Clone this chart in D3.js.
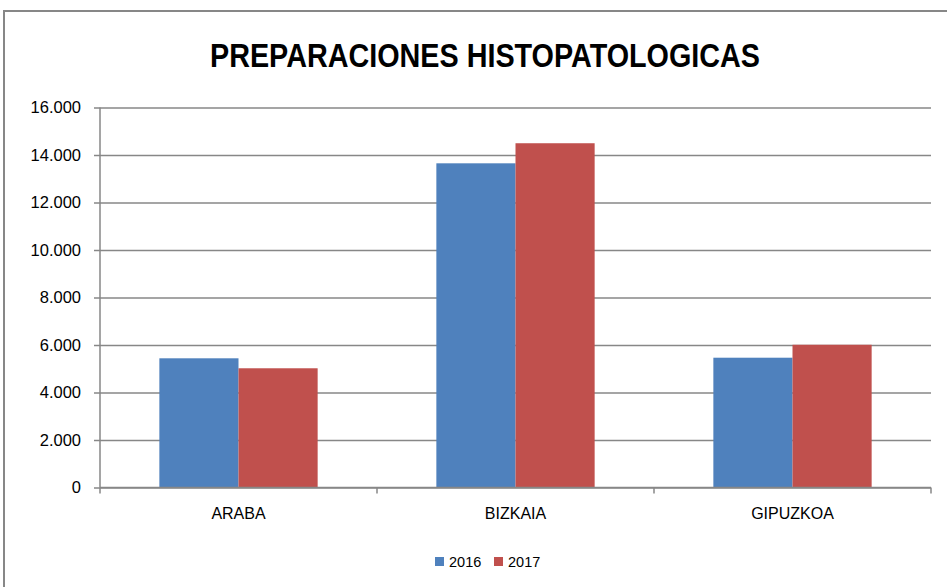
<!DOCTYPE html>
<html>
<head>
<meta charset="utf-8">
<script src="https://cdn.jsdelivr.net/npm/d3@7"></script>
<style>
  html, body { margin: 0; padding: 0; background: #fff; }
  svg { display: block; }
</style>
</head>
<body>
<div id="chart"></div>
<script>
// Data
const categories = ['ARABA', 'BIZKAIA', 'GIPUZKOA'];
const seriesNames = ['2016', '2017'];
const values2016 = [5440, 13650, 5465];
const values2017 = [5020, 14495, 6010];
const yTicks = [0, 2000, 4000, 6000, 8000, 10000, 12000, 14000, 16000];
const colors = ['#4F81BD', '#C0504D'];

const width = 947;
const height = 587;
const margin = { left: 100, right: 16, top: 107.5, bottom: 99.5 };

const svg = d3.select('#chart')
    .append('svg')
    .attr('width', width)
    .attr('height', height);

// Chart frame
svg.append('rect')
    .attr('x', 4)
    .attr('y', 11)
    .attr('width', width)
    .attr('height', height)
    .style('fill', '#fff')
    .style('stroke', '#878787')
    .style('stroke-width', 2);

// Title
svg.append('text')
    .attr('x', 485)
    .attr('y', 67)
    .attr('text-anchor', 'middle')
    .style('font-family', '"Liberation Sans Narrow", "Liberation Sans", Arial, sans-serif')
    .style('font-weight', 'bold')
    .style('font-size', '33px')
    .attr('textLength', 550)
    .attr('lengthAdjust', 'spacingAndGlyphs')
    .style('fill', '#000')
    .text('PREPARACIONES HISTOPATOLOGICAS');

const plotW = width - margin.left - margin.right;
const plotBottom = height - margin.bottom;

const x = d3.scaleBand()
    .domain(categories)
    .range([margin.left, margin.left + plotW])
    .paddingInner(0)
    .paddingOuter(0);

// bars sit in the middle of each band, gap = 150% of one bar width
const xSeries = d3.scaleBand()
    .domain(seriesNames)
    .range([0, x.bandwidth()])
    .paddingInner(0)
    .paddingOuter(0.75);

const y = d3.scaleLinear()
    .domain([0, 16000])
    .range([plotBottom, margin.top]);

const fmt = v => d3.format(',')(v).replace(/,/g, '.');

// Gridlines + y axis
const yAxis = svg.append('g')
    .attr('transform', `translate(${margin.left},0)`)
    .call(d3.axisLeft(y).tickValues(yTicks).tickFormat(fmt).tickSize(6).tickPadding(13));

yAxis.select('.domain').remove();
yAxis.selectAll('.tick line')
    .attr('x2', plotW)
    .attr('x1', -6)
    .style('stroke', '#878787')
    .style('stroke-width', 1.5);
yAxis.selectAll('.tick text')
    .style('font-family', '"Liberation Sans", Arial, sans-serif')
    .style('font-size', '16.5px')
    .style('fill', '#000');

// Bars
const seriesData = [values2016, values2017];
seriesData.forEach((vals, si) => {
    svg.selectAll(`.bar-${si}`)
        .data(categories.map((c, i) => ({ cat: c, value: vals[i] })))
        .enter()
        .append('rect')
        .attr('class', `bar-${si}`)
        .attr('x', d => x(d.cat) + xSeries(seriesNames[si]))
        .attr('y', d => y(d.value))
        .attr('width', xSeries.bandwidth())
        .attr('height', d => plotBottom - y(d.value))
        .style('fill', colors[si]);
});

// Y axis line
svg.append('line')
    .attr('x1', margin.left).attr('x2', margin.left)
    .attr('y1', margin.top).attr('y2', plotBottom)
    .style('stroke', '#878787')
    .style('stroke-width', 1.5);

// X axis
const xAxis = svg.append('g')
    .attr('transform', `translate(0,${plotBottom})`)
    .call(d3.axisBottom(x).tickSize(0).tickPadding(20));

xAxis.select('.domain')
    .attr('d', `M${margin.left},0H${margin.left + plotW}`)
    .style('stroke', '#878787')
    .style('stroke-width', 1.5);
xAxis.selectAll('.tick text')
    .style('font-family', '"Liberation Sans", Arial, sans-serif')
    .style('font-size', '16px')
    .style('fill', '#000');

// boundary ticks between categories
const boundaries = categories.map(c => x(c)).concat([margin.left + plotW]);
xAxis.selectAll('.bound')
    .data(boundaries)
    .enter()
    .append('line')
    .attr('class', 'bound')
    .attr('x1', d => d).attr('x2', d => d)
    .attr('y1', 0).attr('y2', 6)
    .style('stroke', '#878787')
    .style('stroke-width', 1.5);

// Legend
const legendX = [435, 494];
const legend = svg.append('g');
seriesNames.forEach((name, i) => {
    legend.append('rect')
        .attr('x', legendX[i])
        .attr('y', 557)
        .attr('width', 9)
        .attr('height', 9)
        .style('fill', colors[i]);
    legend.append('text')
        .attr('x', legendX[i] + 14)
        .attr('y', 567)
        .style('font-family', '"Liberation Sans", Arial, sans-serif')
        .style('font-size', '14.5px')
        .style('fill', '#000')
        .text(name);
});
</script>
</body>
</html>
